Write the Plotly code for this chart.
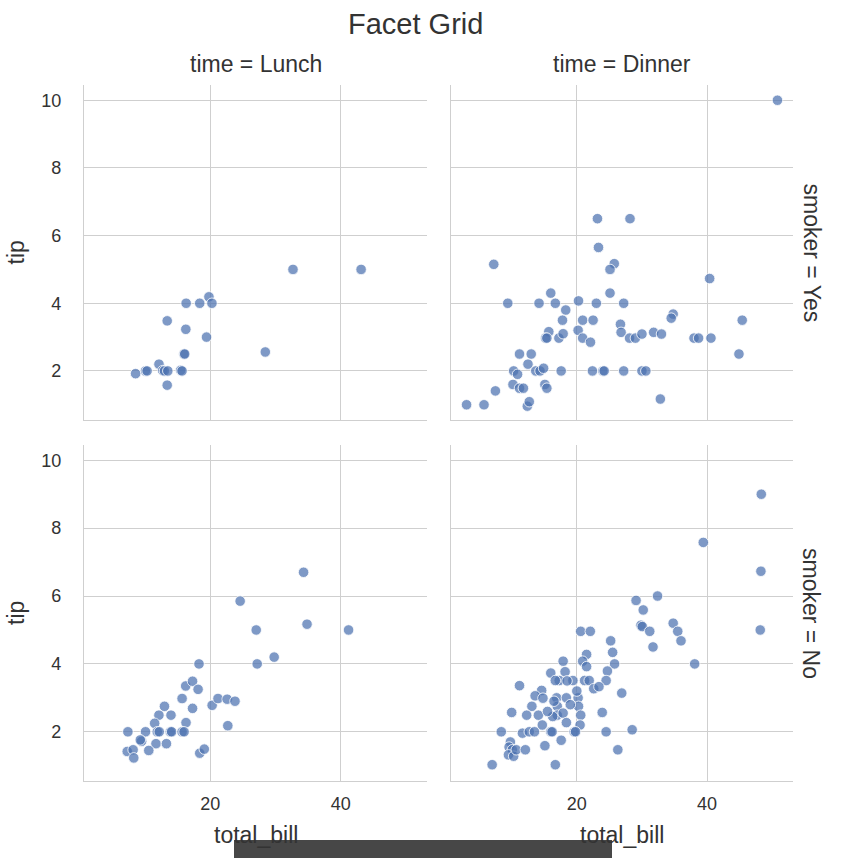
import plotly.graph_objects as go

# ---- data ----
lunch_yes_bill = [32.68, 43.11, 28.44, 16.32, 18.4, 19.81, 20.27, 13.42, 16.27, 19.44, 15.98, 16.1,
                  12.16, 10.09, 10.34, 8.58, 12.74, 13.0, 13.51, 15.48, 15.69, 13.42]
lunch_yes_tip = [5.0, 5.0, 2.56, 4.0, 4.0, 4.19, 4.0, 3.48, 3.23, 3.0, 2.5, 2.5,
                 2.2, 2.0, 2.0, 1.92, 2.01, 2.0, 2.0, 2.02, 2.0, 1.58]

dinner_yes_bill = [50.81, 23.17, 28.17, 23.33, 7.25, 25.75, 25.1, 40.4, 16.0, 25.1, 9.4, 14.2, 16.7,
                   20.26, 23.0, 27.2, 18.3, 17.8, 20.9, 22.5, 26.7, 34.8, 34.5, 45.4, 15.7, 15.2,
                   15.4, 17.25, 17.9, 20.2, 20.9, 22.1, 26.8, 28.1, 29.0, 30.0, 31.8, 33.0, 38.0,
                   38.7, 40.6, 44.9, 11.2, 13.0, 12.5, 10.3, 10.9, 13.7, 14.35, 14.9, 17.6, 22.4,
                   24.0, 24.2, 27.2, 30.0, 30.6, 10.2, 11.2, 11.8, 15.1, 15.4, 7.5, 3.07, 5.75,
                   12.4, 12.7, 32.83]
dinner_yes_tip = [10.0, 6.5, 6.5, 5.65, 5.15, 5.17, 5.0, 4.73, 4.3, 4.3, 4.0, 4.0, 4.0,
                  4.07, 4.0, 4.0, 3.8, 3.5, 3.5, 3.5, 3.38, 3.68, 3.56, 3.5, 3.16, 2.97,
                  2.97, 2.97, 3.1, 3.2, 2.97, 2.85, 3.14, 2.97, 2.97, 3.09, 3.14, 3.09, 2.97,
                  2.97, 2.97, 2.5, 2.5, 2.5, 2.2, 2.0, 1.9, 2.0, 2.0, 2.08, 2.0, 2.0,
                  2.0, 2.0, 2.0, 2.0, 2.0, 1.6, 1.49, 1.49, 1.6, 1.49, 1.41, 1.0, 1.0,
                  0.96, 1.09, 1.17]

lunch_no_bill = [34.3, 24.59, 27.05, 34.83, 41.19, 29.8, 27.2, 18.29, 16.25, 17.3, 18.15, 15.7,
                 17.3, 20.3, 21.2, 22.6, 23.8, 22.7, 13.0, 12.15, 14.0, 11.5, 16.3, 7.4, 10.1,
                 11.9, 12.2, 13.9, 14.1, 15.7, 16.0, 9.5, 9.3, 11.7, 13.3, 7.3, 8.2, 8.3, 10.6,
                 18.4, 19.1]
lunch_no_tip = [6.7, 5.85, 5.0, 5.17, 5.0, 4.2, 4.0, 4.0, 3.35, 3.49, 3.25, 2.98,
                2.69, 2.78, 2.98, 2.96, 2.9, 2.18, 2.75, 2.49, 2.49, 2.25, 2.27, 2.0, 2.0,
                2.0, 2.0, 2.0, 2.0, 2.0, 2.0, 1.72, 1.76, 1.65, 1.65, 1.42, 1.47, 1.23, 1.45,
                1.37, 1.49]

dinner_no_bill = [48.33, 39.42, 48.27, 48.17, 29.1, 32.4, 30.2, 29.85, 30.05, 31.2, 34.8, 35.5,
                  36.0, 31.7, 38.1, 20.6, 22.07, 25.2, 25.5, 25.8, 21.5, 20.9, 21.5, 17.9, 18.2,
                  16.0, 11.2, 24.7, 24.5, 17.3, 16.7, 19.4, 21.2, 21.9, 22.6, 23.4, 14.6, 13.6,
                  14.8, 16.9, 18.4, 20.2, 20.26, 26.9, 13.1, 10.0, 12.3, 14.1, 17.0, 17.0, 16.3,
                  17.9, 18.4, 20.6, 20.5, 14.7, 23.9, 8.4, 11.65, 12.7, 13.5, 16.0, 16.2, 19.6,
                  19.8, 24.5, 28.5, 9.8, 9.6, 10.1, 9.5, 10.3, 10.7, 12.1, 15.1, 17.6, 26.3,
                  7.0, 16.7, 18.5, 19.0, 15.5, 20.0, 16.5]
dinner_no_tip = [9.0, 7.58, 6.73, 5.0, 5.87, 6.0, 5.59, 5.14, 5.1, 4.96, 5.2, 4.96,
                 4.68, 4.5, 4.0, 4.96, 4.96, 4.68, 4.34, 4.0, 4.28, 4.08, 3.92, 4.08, 3.77,
                 3.73, 3.36, 3.79, 3.51, 3.51, 3.51, 3.51, 3.51, 3.51, 3.27, 3.33, 3.22, 3.06,
                 2.99, 3.0, 3.0, 3.0, 2.75, 3.14, 2.75, 2.57, 2.49, 2.49, 2.75, 2.49, 2.45,
                 2.55, 2.27, 2.49, 2.2, 2.2, 2.57, 2.0, 1.96, 2.0, 2.0, 2.0, 2.0, 2.0,
                 2.0, 2.0, 2.06, 1.7, 1.55, 1.47, 1.32, 1.28, 1.47, 1.47, 1.59, 1.75, 1.47,
                 1.03, 1.03, 3.5, 2.8, 2.6, 3.2, 2.9]

col_titles = ["time = Lunch", "time = Dinner"]
row_titles = ["smoker = Yes", "smoker = No"]
x_ticks = [20, 40]
y_ticks = [2, 4, 6, 8, 10]

W, H = 846, 858
FONT = "Liberation Sans, Arial, sans-serif"
TXT = "#333333"
GRID = "#cfcfcf"
MARK = "rgba(76,114,176,0.72)"
TICK_SIZE = 18
LAB_SIZE = 23
TITLE_SIZE = 29

# panel pixel boxes (left, right, top, bottom)
cols_px = [(84, 427), (451, 793)]
rows_px = [(85, 420), (445, 781)]

fig = go.Figure()
panels = [
    (lunch_yes_bill, lunch_yes_tip, 0, 0),
    (dinner_yes_bill, dinner_yes_tip, 0, 1),
    (lunch_no_bill, lunch_no_tip, 1, 0),
    (dinner_no_bill, dinner_no_tip, 1, 1),
]
for i, (xs, ys, r, c) in enumerate(panels, start=1):
    sfx = "" if i == 1 else str(i)
    fig.add_trace(go.Scatter(
        x=xs, y=ys, mode="markers", xaxis="x" + sfx, yaxis="y" + sfx,
        marker=dict(size=10.5, color=MARK, line=dict(color="white", width=0.8)),
        showlegend=False, hoverinfo="x+y"))
    l, rr = cols_px[c]
    t, b = rows_px[r]
    xa = dict(domain=[l / W, rr / W], range=[0.68, 53.2], tickvals=x_ticks,
              showticklabels=(r == 1), showgrid=True, gridcolor=GRID, gridwidth=1,
              zeroline=False, showline=True, linecolor=GRID, linewidth=1.2,
              anchor="y" + sfx, ticks="", tickfont=dict(family=FONT, size=TICK_SIZE, color=TXT),
              ticklabelstandoff=6)
    ya = dict(domain=[1 - b / H, 1 - t / H], range=[0.55, 10.45], tickvals=y_ticks,
              showticklabels=(c == 0), showgrid=True, gridcolor=GRID, gridwidth=1,
              zeroline=False, showline=True, linecolor=GRID, linewidth=1.2,
              anchor="x" + sfx, ticks="", tickfont=dict(family=FONT, size=TICK_SIZE, color=TXT),
              ticklabelstandoff=18)
    fig.layout["xaxis" + sfx] = xa
    fig.layout["yaxis" + sfx] = ya

ann = []
ann.append(dict(text="Facet Grid", x=415 / W, y=1 - 24 / H, xref="paper", yref="paper",
                showarrow=False, font=dict(family=FONT, size=TITLE_SIZE, color=TXT),
                xanchor="center", yanchor="middle"))
for c, title in enumerate(col_titles):
    l, rr = cols_px[c]
    ann.append(dict(text=title, x=(l + rr) / 2 / W, y=1 - 64 / H, xref="paper", yref="paper",
                    showarrow=False, font=dict(family=FONT, size=LAB_SIZE, color=TXT),
                    xanchor="center", yanchor="middle"))
    ann.append(dict(text="total_bill", x=(l + rr) / 2 / W, y=1 - 835 / H, xref="paper", yref="paper",
                    showarrow=False, font=dict(family=FONT, size=LAB_SIZE, color=TXT),
                    xanchor="center", yanchor="middle"))
for r, title in enumerate(row_titles):
    t, b = rows_px[r]
    ann.append(dict(text=title, x=811 / W, y=1 - (t + b) / 2 / H, xref="paper", yref="paper",
                    showarrow=False, textangle=90, font=dict(family=FONT, size=LAB_SIZE, color=TXT),
                    xanchor="center", yanchor="middle"))
    ann.append(dict(text="tip", x=16 / W, y=1 - (t + b) / 2 / H, xref="paper", yref="paper",
                    showarrow=False, textangle=-90, font=dict(family=FONT, size=LAB_SIZE, color=TXT),
                    xanchor="center", yanchor="middle"))

fig.update_layout(
    width=W, height=H, margin=dict(l=0, r=0, t=0, b=0, pad=0),
    paper_bgcolor="white", plot_bgcolor="white",
    annotations=ann,
    shapes=[dict(type="rect", xref="paper", yref="paper", x0=234 / W, x1=612 / W,
                 y0=0, y1=1 - 840 / H, fillcolor="#474747", line=dict(width=0), layer="above")],
)

fig.write_html("out.html")
